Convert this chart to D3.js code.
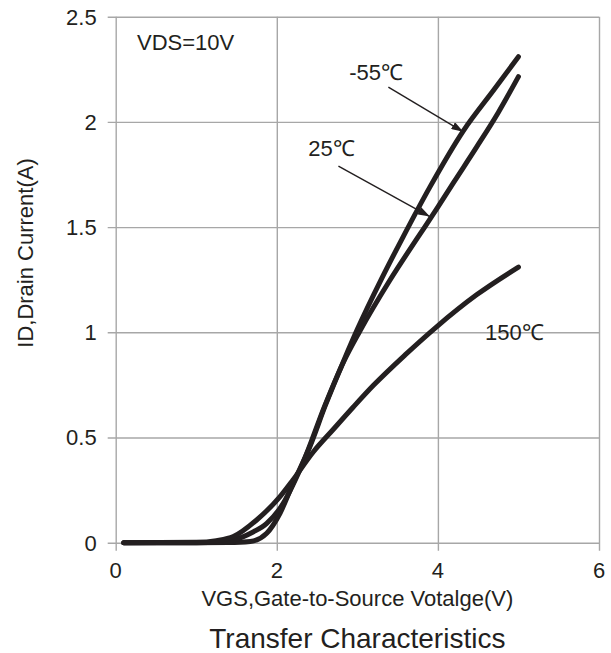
<!DOCTYPE html>
<html>
<head>
<meta charset="utf-8">
<script src="https://cdn.jsdelivr.net/npm/d3@7/dist/d3.min.js"></script>
<style>
  html, body { margin: 0; padding: 0; background: #ffffff; }
  svg { display: block; font-family: "Liberation Sans", Arial, Helvetica, sans-serif; }
</style>
</head>
<body>
<svg id="chart" width="611" height="653"></svg>
<script>
// Transfer characteristics: drain current vs gate-source voltage at three temperatures
const xTicks = [0, 2, 4, 6];
const yTicks = [0, 0.5, 1, 1.5, 2, 2.5];
const yTickLabels = ["0", "0.5", "1", "1.5", "2", "2.5"];

const seriesNames = ["-55\u2103", "25\u2103", "150\u2103"];

const vgsMinus55 = [0.1, 1.0, 1.4, 1.67, 1.875, 2.04, 2.2, 2.41, 2.6, 2.83, 3.0, 3.3, 3.57, 3.9, 4.32, 4.7, 5.0];
const idMinus55  = [0, 0, 0.001, 0.006, 0.045, 0.14, 0.28, 0.456, 0.65, 0.864, 1.014, 1.254, 1.455, 1.69, 1.96, 2.155, 2.31];

const vgs25 = [0.1, 1.0, 1.3, 1.46, 1.7, 1.875, 2.08, 2.2, 2.33, 2.6, 2.83, 3.03, 3.4, 3.74, 3.94, 4.2, 4.48, 4.75, 5.0];
const id25  = [0, 0, 0.004, 0.013, 0.05, 0.092, 0.187, 0.275, 0.385, 0.655, 0.86, 1.005, 1.245, 1.445, 1.56, 1.715, 1.88, 2.045, 2.215];

const vgs150 = [0.1, 1.0, 1.25, 1.46, 1.75, 2.04, 2.2, 2.45, 2.7, 2.95, 3.2, 3.6, 3.98, 4.48, 5.0];
const id150  = [0, 0.002, 0.01, 0.029, 0.108, 0.219, 0.298, 0.43, 0.538, 0.645, 0.748, 0.895, 1.025, 1.178, 1.31];

// Label anchors (data units) and arrow start/end points (data units)
const labelPos = [[2.9, 2.2], [2.39, 1.838], [4.585, 0.965]];
const arrowFrom = [[3.385, 2.165], [2.765, 1.79]];
const arrowTo   = [[4.315, 1.953], [3.90, 1.55]];

const svg = d3.select("#chart");
const margin = { left: 115.7, right: 12, top: 16.7, bottom: 110.3 };
const W = 611, H = 653;
const x = d3.scaleLinear().domain([0, 6]).range([margin.left, W - margin.right]);
const y = d3.scaleLinear().domain([0, 2.5]).range([H - margin.bottom, margin.top]);

const grid = "#a7a7a7";
const ink = "#231f20";

// grid lines with outward ticks
svg.append("g")
  .attr("transform", `translate(0,${y(0)})`)
  .call(d3.axisBottom(x).tickValues(xTicks).tickSize(-(y(0) - y(2.5))).tickFormat(""))
  .call(g => g.select(".domain").remove())
  .call(g => g.selectAll("line").attr("stroke", grid).attr("stroke-width", 1.4).attr("y2", y(2.5) - y(0)).attr("y1", 8));

svg.append("g")
  .attr("transform", `translate(${x(0)},0)`)
  .call(d3.axisLeft(y).tickValues(yTicks).tickFormat(""))
  .call(g => g.select(".domain").remove())
  .call(g => g.selectAll("line").attr("stroke", grid).attr("stroke-width", 1.4).attr("x1", -8).attr("x2", x(6) - x(0)));

// tick labels
svg.append("g").selectAll("text").data(xTicks).join("text")
  .attr("x", d => x(d)).attr("y", y(0) + 35.5)
  .attr("text-anchor", "middle").attr("font-size", 22).attr("fill", ink)
  .text(d => d);

svg.append("g").selectAll("text").data(yTicks).join("text")
  .attr("x", x(0) - 19).attr("y", d => y(d) + 7.8)
  .attr("text-anchor", "end").attr("font-size", 22).attr("fill", ink)
  .text((d, i) => yTickLabels[i]);

// axis titles and chart title
svg.append("text")
  .attr("x", (x(0) + x(6)) / 2).attr("y", 606)
  .attr("text-anchor", "middle").attr("font-size", 22).attr("fill", ink)
  .text("VGS,Gate-to-Source Votalge(V)");

svg.append("text")
  .attr("transform", "translate(33,253) rotate(-90)")
  .attr("text-anchor", "middle").attr("font-size", 22).attr("fill", ink)
  .text("ID,Drain Current(A)");

svg.append("text")
  .attr("x", (x(0) + x(6)) / 2).attr("y", 648)
  .attr("text-anchor", "middle").attr("font-size", 28).attr("fill", ink)
  .text("Transfer Characteristics");

svg.append("text")
  .attr("x", 137).attr("y", 50)
  .attr("font-size", 22).attr("fill", ink)
  .text("VDS=10V");

// curves
const series = [
  { v: vgsMinus55, i: idMinus55 },
  { v: vgs25, i: id25 },
  { v: vgs150, i: id150 }
];
const line = d3.line().x(d => x(d[0])).y(d => y(d[1])).curve(d3.curveMonotoneX);
svg.append("g").selectAll("path").data(series).join("path")
  .attr("d", s => line(s.v.map((v, k) => [v, s.i[k]])))
  .attr("fill", "none").attr("stroke", ink).attr("stroke-width", 5)
  .attr("stroke-linecap", "round").attr("stroke-linejoin", "round");

// arrowheads
svg.append("defs").append("marker")
  .attr("id", "arrow").attr("viewBox", "0 0 12 8").attr("refX", 12).attr("refY", 4)
  .attr("markerWidth", 12).attr("markerHeight", 8).attr("markerUnits", "userSpaceOnUse")
  .attr("orient", "auto")
  .append("path").attr("d", "M0,0 L12,4 L0,8 Z").attr("fill", ink);

svg.append("g").selectAll("line").data(arrowFrom).join("line")
  .attr("x1", d => x(d[0])).attr("y1", d => y(d[1]))
  .attr("x2", (d, k) => x(arrowTo[k][0])).attr("y2", (d, k) => y(arrowTo[k][1]))
  .attr("stroke", ink).attr("stroke-width", 1.4).attr("marker-end", "url(#arrow)");

// temperature labels
svg.append("g").selectAll("text").data(seriesNames).join("text")
  .attr("x", (d, k) => x(labelPos[k][0])).attr("y", (d, k) => y(labelPos[k][1]))
  .attr("font-size", 22).attr("fill", ink)
  .text(d => d);
</script>
</body>
</html>
